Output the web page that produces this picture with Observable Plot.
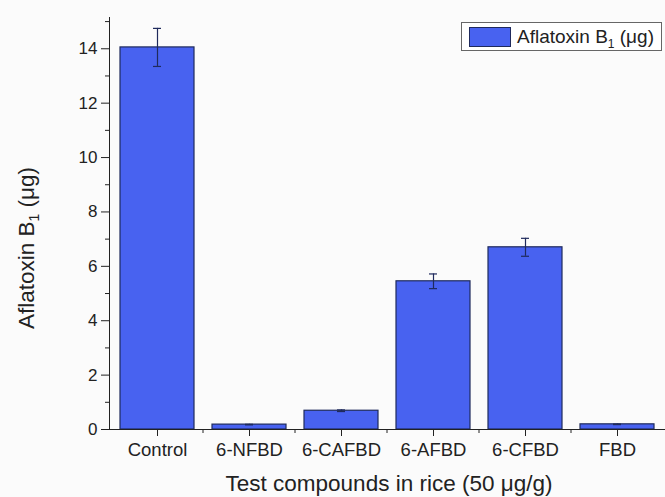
<!DOCTYPE html>
<html><head><meta charset="utf-8">
<script src="https://cdn.jsdelivr.net/npm/d3@7"></script>
<script src="https://cdn.jsdelivr.net/npm/@observablehq/plot@0.6"></script>
<style>
body{margin:0;background:#fbfbfb;font-family:"Liberation Sans",Arial,sans-serif}
#wrap{position:relative;width:665px;height:497px}
#legend{position:absolute;left:461px;top:22px;width:201px;height:29px;border:1px solid #666;background:#fff;box-sizing:border-box;font-size:19px;color:#222;display:flex;align-items:center;z-index:2}
#legend .sw{width:42px;height:20px;background:#4862f0;border:1px solid #1f2a5c;box-sizing:border-box;margin-left:7px;margin-right:6px}
#legend sub{font-size:12px;vertical-align:-5px;line-height:0}
</style></head>
<body><div id="wrap"><div id="legend"><div class="sw"></div><span>Aflatoxin B<sub>1</sub> (μg)</span></div></div>
<script>
const categories = ["Control","6-NFBD","6-CAFBD","6-AFBD","6-CFBD","FBD"];
const values = [14.05, 0.18, 0.69, 5.45, 6.70, 0.19];
const errors = [0.70, 0.01, 0.03, 0.27, 0.33, 0.01];
const yTicks = [0,2,4,6,8,10,12,14];
const yMinorTicks = [1,3,5,7,9,11,13,15];
const data = categories.map((c,i)=>({c, v:values[i], e:errors[i]}));
const fill = "#4862f0", dark = "#1f2a5c";
const plot = Plot.plot({
  width:665, height:497, marginLeft:109, marginRight:0, marginTop:17, marginBottom:68,
  style:{background:"transparent", fontFamily:"Liberation Sans, Arial, sans-serif", fontSize:"17px", color:"#222"},
  x:{domain:categories, paddingInner:0.2, paddingOuter:0.1, label:null},
  y:{domain:[0,15.15], label:null},
  marks:[
    Plot.barY(data,{x:"c", y:"v", fill, stroke:dark, strokeWidth:1.2}),
    Plot.ruleX(data,{x:"c", y1:d=>d.v-d.e, y2:d=>d.v+d.e, stroke:dark, strokeWidth:1.2}),
    Plot.tickY(data,{x:"c", y:d=>d.v+d.e, stroke:dark, insetLeft:33, insetRight:33, strokeWidth:1.2}),
    Plot.tickY(data,{x:"c", y:d=>d.v-d.e, stroke:dark, insetLeft:33, insetRight:33, strokeWidth:1.2}),
    Plot.axisY({ticks:yTicks, tickSize:8, tickPadding:4, fontSize:17, stroke:"#222"}),
    Plot.axisY({ticks:yMinorTicks, tickSize:4, tickFormat:()=>"", stroke:"#222"}),
    Plot.axisX({tickSize:7, tickPadding:6, fontSize:18.5, stroke:"#222"}),
    Plot.frame({anchor:"left", stroke:"#222"}),
    Plot.frame({anchor:"bottom", stroke:"#222"})
  ]
});
const svg = d3.select(plot);
const xs = plot.scale("x");
const gap = xs.step - xs.bandwidth;
const y0 = 497 - 68;
const minor = svg.append("g").attr("stroke","#222");
categories.slice(1).forEach(c=>{
  const x = xs.apply(c) - gap/2;
  minor.append("line").attr("x1",x).attr("x2",x).attr("y1",y0).attr("y2",y0+4);
});
svg.append("text").attr("x",389).attr("y",491).attr("text-anchor","middle")
  .attr("font-size",22.5).attr("fill","#222").text("Test compounds in rice (50 μg/g)");
const yt = svg.append("text").attr("transform","translate(34,248) rotate(-90)").attr("text-anchor","middle")
  .attr("font-size",22.5).attr("fill","#222");
yt.append("tspan").text("Aflatoxin B");
yt.append("tspan").attr("font-size",14).attr("dy",5).text("1");
yt.append("tspan").attr("dy",-5).text(" (μg)");
document.getElementById("wrap").prepend(plot);
plot.style.position="absolute"; plot.style.left="0"; plot.style.top="0";
</script>
</body></html>
